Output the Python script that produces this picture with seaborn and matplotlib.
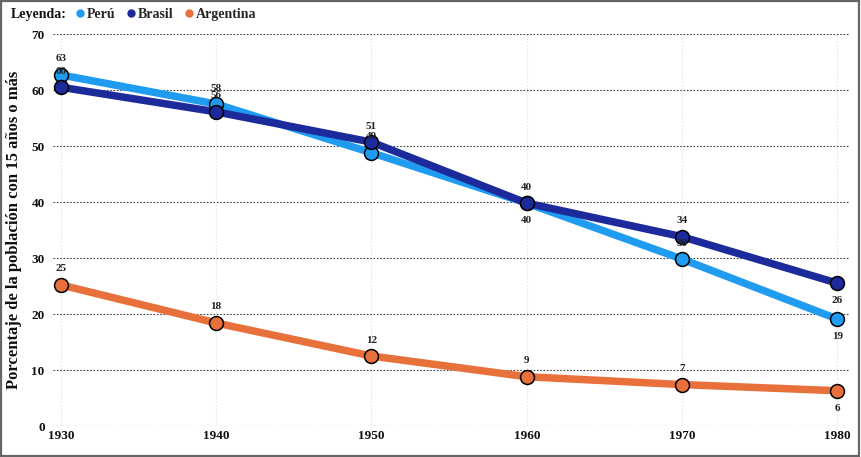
import pandas as pd
import numpy as np
import matplotlib
matplotlib.use("Agg")
import matplotlib.pyplot as plt
import seaborn as sns
from matplotlib.lines import Line2D

years = [1930, 1940, 1950, 1960, 1970, 1980]
peru = [62.7, 57.5, 48.8, 39.8, 29.8, 19.1]
brasil = [60.5, 56.1, 50.7, 39.8, 33.8, 25.5]
argentina = [25.2, 18.4, 12.5, 8.8, 7.4, 6.3]
series = ["Perú", "Brasil", "Argentina"]
colors = {"Perú": "#1f9bf0", "Brasil": "#1c2a9c", "Argentina": "#e8703a"}

df = pd.DataFrame({
    "year": years * 3,
    "value": peru + brasil + argentina,
    "país": [s for s in series for _ in years],
})

sns.set_theme(style="white")
plt.rcParams["font.family"] = ["Liberation Serif", "DejaVu Serif"]
plt.rcParams["font.weight"] = "bold"

fig = plt.figure(figsize=(8.61, 4.57), dpi=100)
ax = fig.add_axes([0.0616, 0.0678, 0.9254, 0.8578])

sns.lineplot(data=df, x="year", y="value", hue="país", palette=colors,
             linewidth=5.4, marker="o", markersize=10, markeredgecolor="black",
             markeredgewidth=1.1, legend=False, ax=ax, zorder=3)

# data labels: above the point, below for the last point and Perú in 1960
for name, vals in zip(series, [peru, brasil, argentina]):
    for i, (x, v) in enumerate(zip(years, vals)):
        below = (i == len(years) - 1) or (name == "Perú" and x == 1960)
        dy = -12.5 if below else 11.5
        ax.annotate(f"{v:.0f}", (x, v), xytext=(0, dy), textcoords="offset points",
                    ha="center", va="center", fontsize=8, fontweight="bold",
                    color="#222222", zorder=4)

ax.set_xlim(1929.5, 1980.8)
ax.set_ylim(0, 70)
ax.set_xticks(years)
ax.set_yticks(range(0, 71, 10))
ax.tick_params(axis="both", length=0, labelsize=9.5, colors="#111111")
ax.tick_params(axis="x", pad=3)
ax.tick_params(axis="y", pad=6)
for lbl in ax.get_xticklabels() + ax.get_yticklabels():
    lbl.set_fontweight("bold")
ax.grid(axis="y", linestyle=(0, (1.5, 1.5)), color="#444444", linewidth=0.8)
ax.grid(axis="x", linestyle=(0, (1.5, 1.5)), color="#e6e6e6", linewidth=0.8)
for sp in ax.spines.values():
    sp.set_visible(False)
ax.set_xlabel("")
ax.set_ylabel("Porcentaje de la población con 15 años o más", fontsize=12,
              fontweight="bold", color="#111111", labelpad=7)

handles = [Line2D([], [], marker="o", linestyle="", color=colors[s],
                  markersize=5) for s in series]
fig.text(0.012, 0.968, "Leyenda:", fontsize=10, fontweight="bold",
         va="center", ha="left", color="#111111")
fig.legend(handles, series, loc="center left", bbox_to_anchor=(0.085, 0.968),
           ncol=3, frameon=False, handletextpad=0.0, columnspacing=0.6,
           handlelength=1.0, prop={"size": 10, "weight": "bold"}, borderaxespad=0,
           borderpad=0)

fig.patches.append(plt.Rectangle((0.001, 0.002), 0.997, 0.996, transform=fig.transFigure,
                                 fill=False, edgecolor="#666666", linewidth=1.6))

fig.savefig("out.png", dpi=100)
